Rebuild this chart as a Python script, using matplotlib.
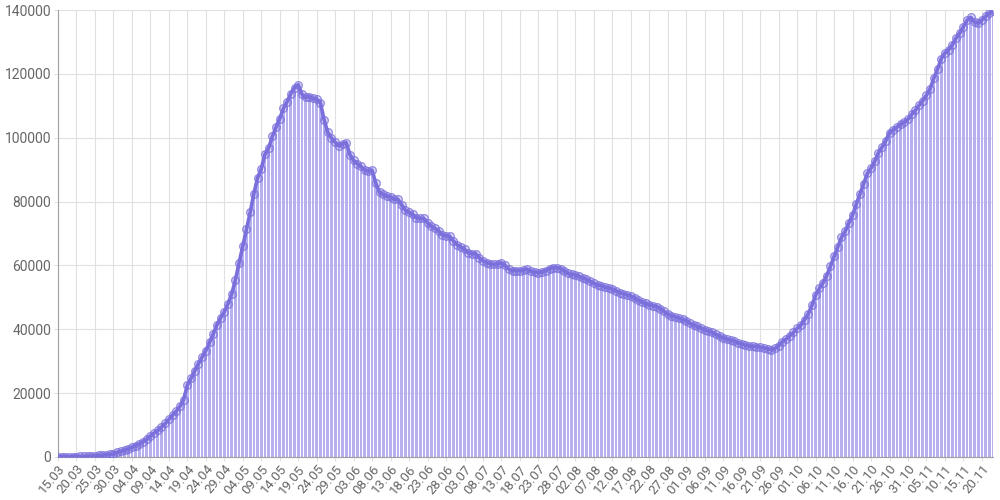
import pandas as pd
import matplotlib
matplotlib.use("Agg")
import matplotlib.pyplot as plt

plt.rcParams['font.family'] = ['Roboto', 'DejaVu Sans']

# daily values, 15.03 .. 23.11
start_date = "2020-03-15"
active = [
    50, 50, 80, 90, 120, 130, 180, 190, 240, 260,
    380, 480, 570, 700, 790, 1000, 1500, 1800, 2100, 2500,
    3100, 3600, 4100, 4800, 5600, 6600, 7500, 8300, 9400, 10500,
    11800, 13100, 14300, 15900, 18000, 22500, 24600, 27000, 29200, 31300,
    33300, 35900, 38500, 41400, 43600, 45500, 48000, 51000, 55500, 60800,
    66000, 71400, 76600, 82500, 87400, 90300, 94800, 96800, 100400, 103300,
    106000, 109200, 111300, 113800, 115700, 116600, 113600, 112600, 112900, 112300,
    112100, 111000, 105600, 101700, 99900, 98600, 97400, 98100, 98400, 94700,
    92900, 91900, 91000, 89800, 89500, 89800, 85700, 82900, 82300, 81700,
    81400, 80800, 80700, 79000, 77300, 76600, 76000, 74900, 74800, 74700,
    73400, 72300, 71600, 70900, 69500, 69300, 69100, 67700, 66500, 65800,
    65100, 64000, 63700, 63700, 62400, 61500, 60900, 60500, 60300, 60500,
    60800, 60000, 58800, 58400, 58300, 58400, 58600, 58800, 58200, 57900,
    57700, 58000, 58400, 59000, 59300, 59300, 59000, 58300, 57500, 57200,
    57000, 56600, 56100, 55600, 55100, 54400, 53900, 53600, 53200, 52900,
    52600, 52100, 51500, 51100, 50800, 50400, 49900, 49100, 48600, 48100,
    47700, 47400, 47100, 46400, 45600, 44800, 44200, 43900, 43500, 43100,
    42700, 41900, 41300, 40900, 40400, 39900, 39400, 39100, 38400, 37900,
    37300, 36900, 36600, 36300, 35800, 35400, 35000, 34800, 34700, 34600,
    34400, 34200, 33900, 33600, 34000, 34900, 36100, 36900, 38000, 39000,
    40300, 41300, 43000, 44800, 47500, 50700, 52800, 54600, 56800, 59700,
    62800, 65800, 68800, 70700, 73300, 75800, 79200, 82400, 85600, 88800,
    90500, 92600, 95300, 97100, 99100, 101600, 102500, 103300, 104300, 104900,
    105800, 107300, 108600, 110200, 111600, 113300, 115400, 118700, 121500, 124800,
    126500, 127600, 129100, 131200, 132800, 134800, 136800, 137700, 136200, 135900,
    136900, 138000, 139100, 139700,
]
dates = pd.date_range(start_date, periods=len(active), freq="D")
labels = [d.strftime("%d.%m") for d in dates]
y_ticks = [0, 20000, 40000, 60000, 80000, 100000, 120000, 140000]

line_col = "#7a6fdc"
bar_col = "#b6b0ef"

fig = plt.figure(figsize=(10, 5), dpi=100)
ax = fig.add_axes([0.058, 0.086, 0.935, 0.894])

x = list(range(len(active)))
ax.bar(x, active, width=0.72, color=bar_col, zorder=2)
ax.plot(x, active, color=line_col, lw=2.6, zorder=3,
        marker="o", markersize=5.5, markerfacecolor=(0.48, 0.44, 0.86, 0.25),
        markeredgecolor=(0.48, 0.44, 0.86, 0.75), markeredgewidth=1)

ax.set_xlim(0, len(active) - 1)
ax.set_ylim(0, 140000)
ax.set_yticks(y_ticks)
ax.set_yticklabels([str(v) for v in y_ticks])
tick_pos = x[::5]
ax.set_xticks(tick_pos)
ax.set_xticklabels(labels[::5], rotation=50, ha="right", rotation_mode="anchor")

ax.grid(True, color="#e0e0e0", lw=0.8, zorder=0)
ax.set_axisbelow(True)
for s in ["top", "right"]:
    ax.spines[s].set_visible(False)
for s in ["left", "bottom"]:
    ax.spines[s].set_color("#a0a0a0")
ax.tick_params(axis="both", colors="#e0e0e0", labelcolor="#666666")
ax.tick_params(axis="x", length=3, pad=1, labelsize=9.5)
ax.tick_params(axis="y", length=3, pad=2, labelsize=10)

fig.savefig("out.png", dpi=100)
